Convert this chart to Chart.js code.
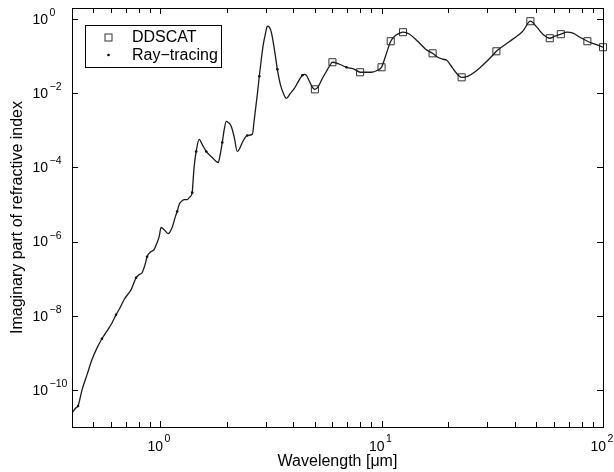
<!DOCTYPE html>
<html>
<head>
<meta charset="utf-8">
<script src="https://cdn.jsdelivr.net/npm/chart.js@4.4.0/dist/chart.umd.min.js"></script>
<style>
  html, body { margin: 0; padding: 0; background: #fff; }
  canvas { display: block; }
</style>
</head>
<body>
<canvas id="kChart" width="614" height="472"></canvas>
<script>
// smooth k(lambda) curve, wavelength in um
const curveWavelength = [
  0.4, 0.417, 0.426, 0.444, 0.467, 0.492, 0.519, 0.546, 0.576, 0.607,
  0.632, 0.659, 0.687, 0.717, 0.739, 0.779, 0.803, 0.829, 0.855, 0.873,
  0.911, 0.939, 0.969, 0.99, 1.01, 1.043, 1.087, 1.133, 1.169, 1.194,
  1.219, 1.245, 1.284, 1.325, 1.367, 1.396, 1.41, 1.425, 1.455, 1.501,
  1.549, 1.615, 1.719, 1.83, 1.868, 1.908, 1.948, 1.989, 2.031, 2.096,
  2.162, 2.231, 2.278, 2.35, 2.424, 2.476, 2.608, 2.663, 2.748, 2.805,
  2.864, 2.925, 2.986, 3.05, 3.112, 3.178, 3.28, 3.384, 3.491, 3.603,
  3.717, 3.875, 4.04, 4.212, 4.391, 4.483, 4.578, 4.724, 4.874, 5.0,
  5.187, 5.408, 5.638, 5.817, 6.0, 6.457, 6.945, 7.547, 8.0, 9.01,
  9.59, 10, 10.42, 11, 11.45, 12.06, 12.5, 13.39, 14.55, 15.82,
  17, 17.92, 18.88, 19.69, 20.52, 21.62, 23, 24.5, 26.63, 29.25,
  31.46, 33, 35.28, 37.95, 40.82, 43.45, 47, 50.28, 53.53, 57.5,
  60.66, 64.5, 68.73, 73.15, 78.7, 85, 92, 100
];
const curveK = [
  2.4e-11, 3.3e-11, 3.7e-11, 1.0e-10, 2.5e-10, 6.5e-10, 1.36e-9, 2.4e-9, 3.9e-9, 6.5e-9,
  1.06e-8, 1.64e-8, 2.7e-8, 3.9e-8, 5.0e-8, 1.06e-7, 1.28e-7, 1.45e-7, 2.4e-7, 3.9e-7,
  5.4e-7, 6.1e-7, 9.4e-7, 1.36e-6, 2.4e-6, 2.1e-6, 1.64e-6, 2.4e-6, 4.5e-6, 6.5e-6,
  1.0e-5, 1.2e-5, 1.36e-5, 1.36e-5, 1.64e-5, 2.1e-5, 4.7e-5, 1.06e-4, 2.7e-4, 5.7e-4,
  4.2e-4, 2.7e-4, 1.86e-4, 1.36e-4, 2.25e-4, 4.7e-4, 1.06e-3, 1.75e-3, 1.64e-3, 1.28e-3,
  6.5e-4, 2.7e-4, 3.1e-4, 4.7e-4, 6.5e-4, 7.3e-4, 7.8e-4, 2.0e-3, 9.4e-3, 0.0288,
  0.083, 0.211, 0.393, 0.647, 0.608, 0.445, 0.155, 0.0445, 0.0175, 0.01,
  0.0073, 0.01, 0.0136, 0.0211, 0.0306, 0.0326, 0.0306, 0.0211, 0.0145, 0.0128,
  0.0155, 0.0254, 0.0393, 0.0537, 0.0689, 0.0608, 0.0504, 0.0445, 0.037, 0.037,
  0.0419, 0.0504, 0.1, 0.254, 0.347, 0.418, 0.445, 0.393, 0.254, 0.155,
  0.12, 0.094, 0.083, 0.078, 0.0571, 0.037, 0.027, 0.0288, 0.0393, 0.0647,
  0.1, 0.136, 0.186, 0.254, 0.347, 0.474, 0.88, 0.608, 0.393, 0.306,
  0.347, 0.393, 0.445, 0.418, 0.326, 0.254, 0.211, 0.175
];

// ray-tracing samples
const rtWavelength = [0.426, 0.546, 0.632, 0.779, 0.873, 1.194, 1.396, 1.455, 1.615, 1.908,
                      2.476, 2.805, 3.384, 4.391, 6.945];
const rtK = [3.7e-11, 2.4e-9, 1.06e-8, 1.06e-7, 3.9e-7, 6.5e-6, 2.1e-5, 2.7e-4, 2.7e-4, 4.7e-4,
             7.3e-4, 0.0288, 0.0445, 0.0306, 0.0504];

// DDSCAT results
const ddWavelength = [5, 6, 8, 10, 11, 12.5, 17, 23, 33, 47, 57.5, 64.5, 85, 100];
const ddK = [0.0128, 0.0689, 0.037, 0.0504, 0.254, 0.445, 0.12, 0.027, 0.136, 0.88,
             0.306, 0.393, 0.254, 0.175];

const xTickValues = [1, 10, 100];
const xTickExp = ['0', '1', '2'];
const yTickValues = [1e-10, 1e-8, 1e-6, 1e-4, 1e-2, 1];
const yTickExp = ['\u221210', '\u22128', '\u22126', '\u22124', '\u22122', '0'];

const FONT = "'Liberation Sans', Arial, Helvetica, sans-serif";

const toPoints = (xs, ys) => xs.map((v, i) => ({ x: v, y: ys[i] }));

// unlabelled minor ticks for the log x axis
const xMinor = [];
for (let d = 0.1; d < 100; d *= 10) {
  for (let m = 2; m <= 9; m++) {
    const v = +(m * d).toPrecision(3);
    if (v >= 0.4 && v <= 100) xMinor.push(v);
  }
}

// box, inward ticks, power-of-ten labels, titles and legend
const axesFrame = {
  id: 'axesFrame',
  afterDatasetsDraw(chart) {
    const { ctx, chartArea: a, scales: { x, y } } = chart;
    ctx.save();
    ctx.strokeStyle = '#000';
    ctx.lineWidth = 1;
    ctx.strokeRect(Math.round(a.left) + 0.5, Math.round(a.top) + 0.5,
                   Math.round(a.right - a.left), Math.round(a.bottom - a.top));

    ctx.beginPath();
    const tickX = (v, len) => {
      const px = Math.round(x.getPixelForValue(v)) + 0.5;
      ctx.moveTo(px, a.bottom); ctx.lineTo(px, a.bottom - len);
      ctx.moveTo(px, a.top); ctx.lineTo(px, a.top + len);
    };
    xTickValues.forEach(v => tickX(v, 6));
    xMinor.forEach(v => tickX(v, 5));
    yTickValues.forEach(v => {
      const py = Math.round(y.getPixelForValue(v)) + 0.5;
      ctx.moveTo(a.left, py); ctx.lineTo(a.left + 6, py);
      ctx.moveTo(a.right, py); ctx.lineTo(a.right - 6, py);
    });
    ctx.stroke();

    ctx.fillStyle = '#000';
    ctx.textBaseline = 'middle';
    // y labels
    yTickValues.forEach((v, i) => {
      const py = y.getPixelForValue(v);
      ctx.font = '14px ' + FONT;
      ctx.textAlign = 'right';
      ctx.fillText('10', 48, py + 1);
      ctx.font = '10.5px ' + FONT;
      ctx.textAlign = 'left';
      ctx.fillText(yTickExp[i], 49.5, py - 6);
    });
    // x labels
    xTickValues.forEach((v, i) => {
      const px = x.getPixelForValue(v);
      ctx.font = '14px ' + FONT;
      ctx.textAlign = 'right';
      ctx.fillText('10', px + 3, a.bottom + 20.5);
      ctx.font = '10.5px ' + FONT;
      ctx.textAlign = 'left';
      ctx.fillText(xTickExp[i], px + 4.5, a.bottom + 12);
    });

    // axis titles
    ctx.font = '16px ' + FONT;
    ctx.textAlign = 'center';
    ctx.fillText('Wavelength [\u03bcm]', (a.left + a.right) / 2, a.bottom + 35);
    ctx.save();
    ctx.translate(18, (a.top + a.bottom) / 2);
    ctx.rotate(-Math.PI / 2);
    ctx.fillText('Imaginary part of refractive index', 0, 0);
    ctx.restore();

    // legend
    ctx.fillStyle = '#fff';
    ctx.fillRect(85.5, 25.5, 136, 42);
    ctx.strokeStyle = '#000';
    ctx.strokeRect(85.5, 25.5, 136, 42);
    ctx.strokeStyle = '#333';
    ctx.strokeRect(105, 34, 7, 7);
    ctx.fillStyle = '#000';
    ctx.beginPath();
    ctx.arc(108.5, 55, 1.3, 0, Math.PI * 2);
    ctx.fill();
    ctx.font = '16px ' + FONT;
    ctx.textAlign = 'left';
    ctx.fillText('DDSCAT', 132, 38);
    ctx.fillText('Ray\u2212tracing', 132, 56);
    ctx.restore();
  }
};

new Chart(document.getElementById('kChart'), {
  type: 'line',
  data: {
    datasets: [
      {
        label: 'curve',
        data: toPoints(curveWavelength, curveK),
        borderColor: '#1a1a1a',
        borderWidth: 1.3,
        pointRadius: 0,
        cubicInterpolationMode: 'monotone',
        fill: false
      },
      {
        label: 'DDSCAT',
        data: toPoints(ddWavelength, ddK),
        showLine: false,
        pointStyle: 'rect',
        pointRadius: 5,
        borderWidth: 1,
        pointBorderColor: '#333',
        pointBackgroundColor: 'rgba(0,0,0,0)',
        clip: false
      },
      {
        label: 'Ray-tracing',
        data: toPoints(rtWavelength, rtK),
        showLine: false,
        pointStyle: 'circle',
        pointRadius: 1.3,
        pointBorderWidth: 0,
        pointBackgroundColor: '#000'
      }
    ]
  },
  options: {
    responsive: false,
    animation: false,
    layout: { padding: { left: 72, top: 8, right: 11, bottom: 45 } },
    scales: {
      x: { type: 'logarithmic', min: 0.4, max: 100, display: false },
      y: { type: 'logarithmic', min: 1e-11, max: 2, display: false }
    },
    plugins: {
      legend: { display: false },
      tooltip: { enabled: false }
    }
  },
  plugins: [axesFrame]
});
</script>
</body>
</html>
